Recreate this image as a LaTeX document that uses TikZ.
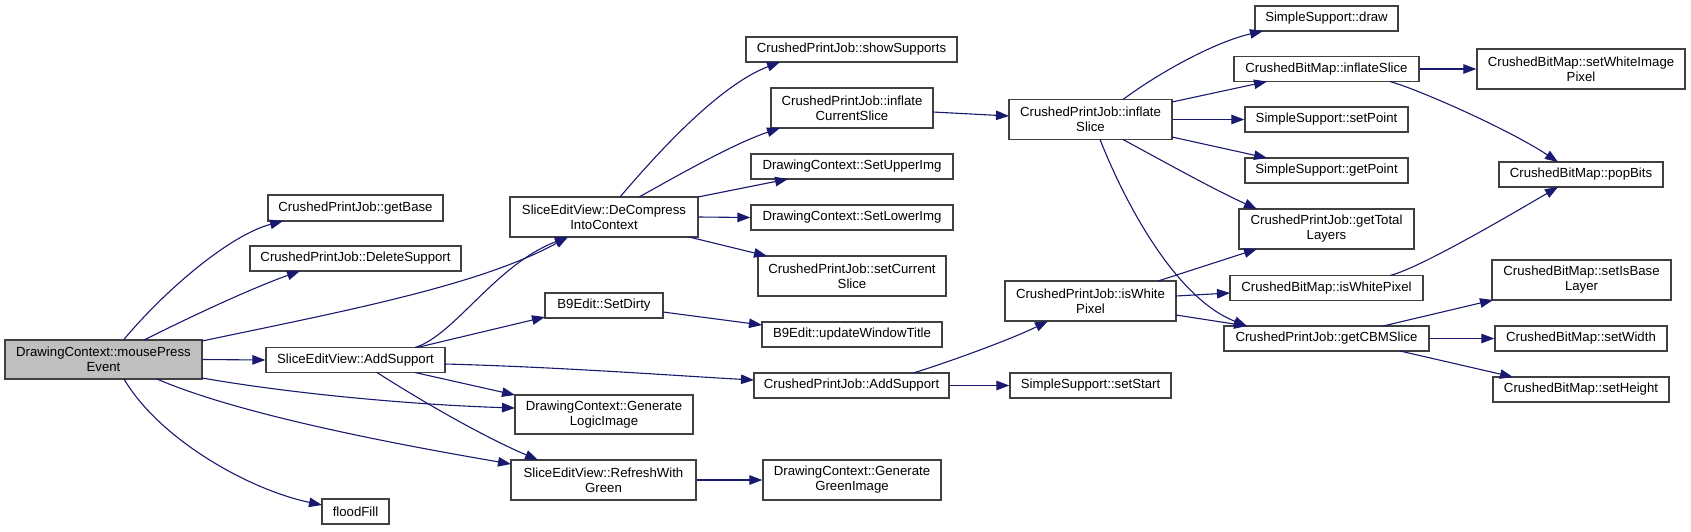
\documentclass[tikz,border=0pt]{standalone}
\usepackage{fontspec}
\setmainfont{Liberation Sans}
\usetikzlibrary{arrows.meta}
\definecolor{edgeblue}{RGB}{25,25,112}
\definecolor{rootgray}{RGB}{191,191,191}
\definecolor{boxline}{RGB}{64,64,64}
\begin{document}
\begin{tikzpicture}[x=1pt,y=-1pt,
  box/.style={draw=boxline, fill=white, line width=1.3pt, inner sep=0pt, align=center,
    font=\fontsize{13.2}{15}\selectfont},
  e/.style={draw=edgeblue, line width=1.1pt, -{Triangle[length=13pt,width=9.5pt]}, fill=none}]
\useasboundingbox (0,0) rectangle (1691,531);
% nodes
\node[box, fill=rootgray, minimum width=197pt, minimum height=39pt] (root) at (103.5,359.5) {DrawingContext::mousePress\\Event};
\node[box, minimum width=175pt, minimum height=26pt] (getBase) at (355.5,208) {CrushedPrintJob::getBase};
\node[box, minimum width=211pt, minimum height=25pt] (delSup) at (355.5,258.5) {CrushedPrintJob::DeleteSupport};
\node[box, minimum width=179pt, minimum height=25pt] (sevAdd) at (355.5,360) {SliceEditView::AddSupport};
\node[box, minimum width=67pt, minimum height=25pt] (flood) at (355.5,511.5) {floodFill};
\node[box, minimum width=211pt, minimum height=25pt] (showSup) at (851.5,49.5) {CrushedPrintJob::showSupports};
\node[box, minimum width=162pt, minimum height=40pt] (inflCur) at (852,108) {CrushedPrintJob::inflate\\CurrentSlice};
\node[box, minimum width=202pt, minimum height=25pt] (setUpper) at (852,166.5) {DrawingContext::SetUpperImg};
\node[box, minimum width=202pt, minimum height=25pt] (setLower) at (852,217.5) {DrawingContext::SetLowerImg};
\node[box, minimum width=188pt, minimum height=40pt] (decomp) at (604,217) {SliceEditView::DeCompress\\IntoContext};
\node[box, minimum width=188pt, minimum height=40pt] (setCur) at (852,276) {CrushedPrintJob::setCurrent\\Slice};
\node[box, minimum width=118pt, minimum height=25pt] (setDirty) at (604,305.5) {B9Edit::SetDirty};
\node[box, minimum width=180pt, minimum height=25pt] (updWin) at (852,334.5) {B9Edit::updateWindowTitle};
\node[box, minimum width=195pt, minimum height=25pt] (pjAdd) at (851.5,385.5) {CrushedPrintJob::AddSupport};
\node[box, minimum width=178pt, minimum height=39pt] (genLogic) at (604,414.5) {DrawingContext::Generate\\LogicImage};
\node[box, minimum width=185pt, minimum height=40pt] (refresh) at (603.5,480) {SliceEditView::RefreshWith\\Green};
\node[box, minimum width=178pt, minimum height=40pt] (genGreen) at (852,480) {DrawingContext::Generate\\GreenImage};
\node[box, minimum width=163pt, minimum height=40pt] (inflSl) at (1090.5,119.5) {CrushedPrintJob::inflate\\Slice};
\node[box, minimum width=143pt, minimum height=25pt] (draw) at (1326.5,18.5) {SimpleSupport::draw};
\node[box, minimum width=185pt, minimum height=25pt] (cbmInfl) at (1326.5,69) {CrushedBitMap::inflateSlice};
\node[box, minimum width=163pt, minimum height=25pt] (setPoint) at (1326.5,119.5) {SimpleSupport::setPoint};
\node[box, minimum width=163pt, minimum height=25pt] (getPoint) at (1326.5,170.5) {SimpleSupport::getPoint};
\node[box, minimum width=175pt, minimum height=40pt] (getTotal) at (1326.5,229) {CrushedPrintJob::getTotal\\Layers};
\node[box, minimum width=193pt, minimum height=25pt] (cbmWhite) at (1326.5,288) {CrushedBitMap::isWhitePixel};
\node[box, minimum width=171pt, minimum height=40pt] (pjWhite) at (1090.5,301) {CrushedPrintJob::isWhite\\Pixel};
\node[box, minimum width=205pt, minimum height=25pt] (getCBM) at (1326.5,338.5) {CrushedPrintJob::getCBMSlice};
\node[box, minimum width=161pt, minimum height=25pt] (setStart) at (1090.5,385.5) {SimpleSupport::setStart};
\node[box, minimum width=208pt, minimum height=40pt] (setWhiteImg) at (1581,69) {CrushedBitMap::setWhiteImage\\Pixel};
\node[box, minimum width=164pt, minimum height=25pt] (popBits) at (1581,174.5) {CrushedBitMap::popBits};
\node[box, minimum width=179pt, minimum height=40pt] (setIsBase) at (1581.5,280) {CrushedBitMap::setIsBase\\Layer};
\node[box, minimum width=172pt, minimum height=25pt] (setWidth) at (1581,338.5) {CrushedBitMap::setWidth};
\node[box, minimum width=176pt, minimum height=25pt] (setHeight) at (1581,389.5) {CrushedBitMap::setHeight};
% edges
\draw[e] ([shift={(20,-19.5)}]root.center) .. controls (165,290) and (230,235) .. ([shift={(-72.5,13)}]getBase.center);
\draw[e] ([shift={(40.5,-19.5)}]root.center) .. controls (200,312) and (255,287) .. ([shift={(-55.5,12.5)}]delSup.center);
\draw[e] ([shift={(98.5,-18.5)}]root.center) .. controls (350,310) and (480,285) .. ([shift={(-36,20)}]decomp.center);
\draw[e] (root.east) -- (sevAdd.west);
\draw[e] ([shift={(98.5,18.5)}]root.center) .. controls (300,395) and (420,405) .. ([shift={(-89,-6.5)}]genLogic.center);
\draw[e] ([shift={(53.5,19.5)}]root.center) .. controls (240,415) and (400,445) .. ([shift={(-92.5,-16)}]refresh.center);
\draw[e] ([shift={(20.5,19.5)}]root.center) .. controls (160,440) and (250,490) .. ([shift={(-33.5,-6.5)}]flood.center);
\draw[e] ([shift={(59.5,-12.5)}]sevAdd.center) .. controls (455,335) and (495,265) .. ([shift={(-36,20)}]decomp.center);
\draw[e] ([shift={(61.5,-12.5)}]sevAdd.center) -- ([shift={(-59,11.5)}]setDirty.center);
\draw[e] ([shift={(89.5,4)}]sevAdd.center) .. controls (560,367) and (680,376) .. ([shift={(-97.5,-5.5)}]pjAdd.center);
\draw[e] ([shift={(59.5,12.5)}]sevAdd.center) -- ([shift={(-89,-19.5)}]genLogic.center);
\draw[e] ([shift={(21.5,12.5)}]sevAdd.center) .. controls (420,400) and (480,435) .. ([shift={(-65.5,-20)}]refresh.center);
\draw[e] ([shift={(16,-20)}]decomp.center) .. controls (660,150) and (720,85) .. ([shift={(-71.5,12.5)}]showSup.center);
\draw[e] ([shift={(35,-20)}]decomp.center) .. controls (670,180) and (730,145) .. ([shift={(-72,20)}]inflCur.center);
\draw[e] ([shift={(94,-20)}]decomp.center) -- ([shift={(-64,12.5)}]setUpper.center);
\draw[e] (decomp.east) -- (setLower.west);
\draw[e] ([shift={(85,20)}]decomp.center) -- ([shift={(-85,-20)}]setCur.center);
\draw[e] ([shift={(59,6.5)}]setDirty.center) -- ([shift={(-90,-9.5)}]updWin.center);
\draw[e] (refresh.east) -- (genGreen.west);
\draw[e] ([shift={(81,4)}]inflCur.center) -- ([shift={(-81.5,-3.5)}]inflSl.center);
\draw[e] ([shift={(61.5,-12.5)}]pjAdd.center) .. controls (940,365) and (1010,340) .. ([shift={(-42.5,20)}]pjWhite.center);
\draw[e] (pjAdd.east) -- (setStart.west);
\draw[e] ([shift={(32.5,-20)}]inflSl.center) .. controls (1160,72) and (1215,42) .. ([shift={(-63.5,12.5)}]draw.center);
\draw[e] ([shift={(81.5,-17.5)}]inflSl.center) -- ([shift={(-59.5,12.5)}]cbmInfl.center);
\draw[e] (inflSl.east) -- (setPoint.west);
\draw[e] ([shift={(81.5,17.5)}]inflSl.center) -- ([shift={(-59.5,-12.5)}]getPoint.center);
\draw[e] ([shift={(32.5,20)}]inflSl.center) .. controls (1170,165) and (1215,190) .. ([shift={(-69.5,-20)}]getTotal.center);
\draw[e] ([shift={(9.5,20)}]inflSl.center) .. controls (1130,215) and (1180,300) .. ([shift={(-79.5,-12.5)}]getCBM.center);
\draw[e] ([shift={(67.5,-20)}]pjWhite.center) -- ([shift={(-69.5,20)}]getTotal.center);
\draw[e] ([shift={(85.5,-5)}]pjWhite.center) -- ([shift={(-96.5,5)}]cbmWhite.center);
\draw[e] ([shift={(85.5,14)}]pjWhite.center) -- ([shift={(-79.5,-12.5)}]getCBM.center);
\draw[e] (cbmInfl.east) -- (setWhiteImg.west);
\draw[e] ([shift={(63.5,12.5)}]cbmInfl.center) .. controls (1420,90) and (1510,130) .. ([shift={(-23,-12.5)}]popBits.center);
\draw[e] ([shift={(63.5,-12.5)}]cbmWhite.center) .. controls (1420,268) and (1510,215) .. ([shift={(-23,12.5)}]popBits.center);
\draw[e] ([shift={(56.5,-12.5)}]getCBM.center) -- ([shift={(-88.5,20)}]setIsBase.center);
\draw[e] (getCBM.east) -- (setWidth.west);
\draw[e] ([shift={(73.5,12.5)}]getCBM.center) -- ([shift={(-68,-12.5)}]setHeight.center);
\end{tikzpicture}
\end{document}
